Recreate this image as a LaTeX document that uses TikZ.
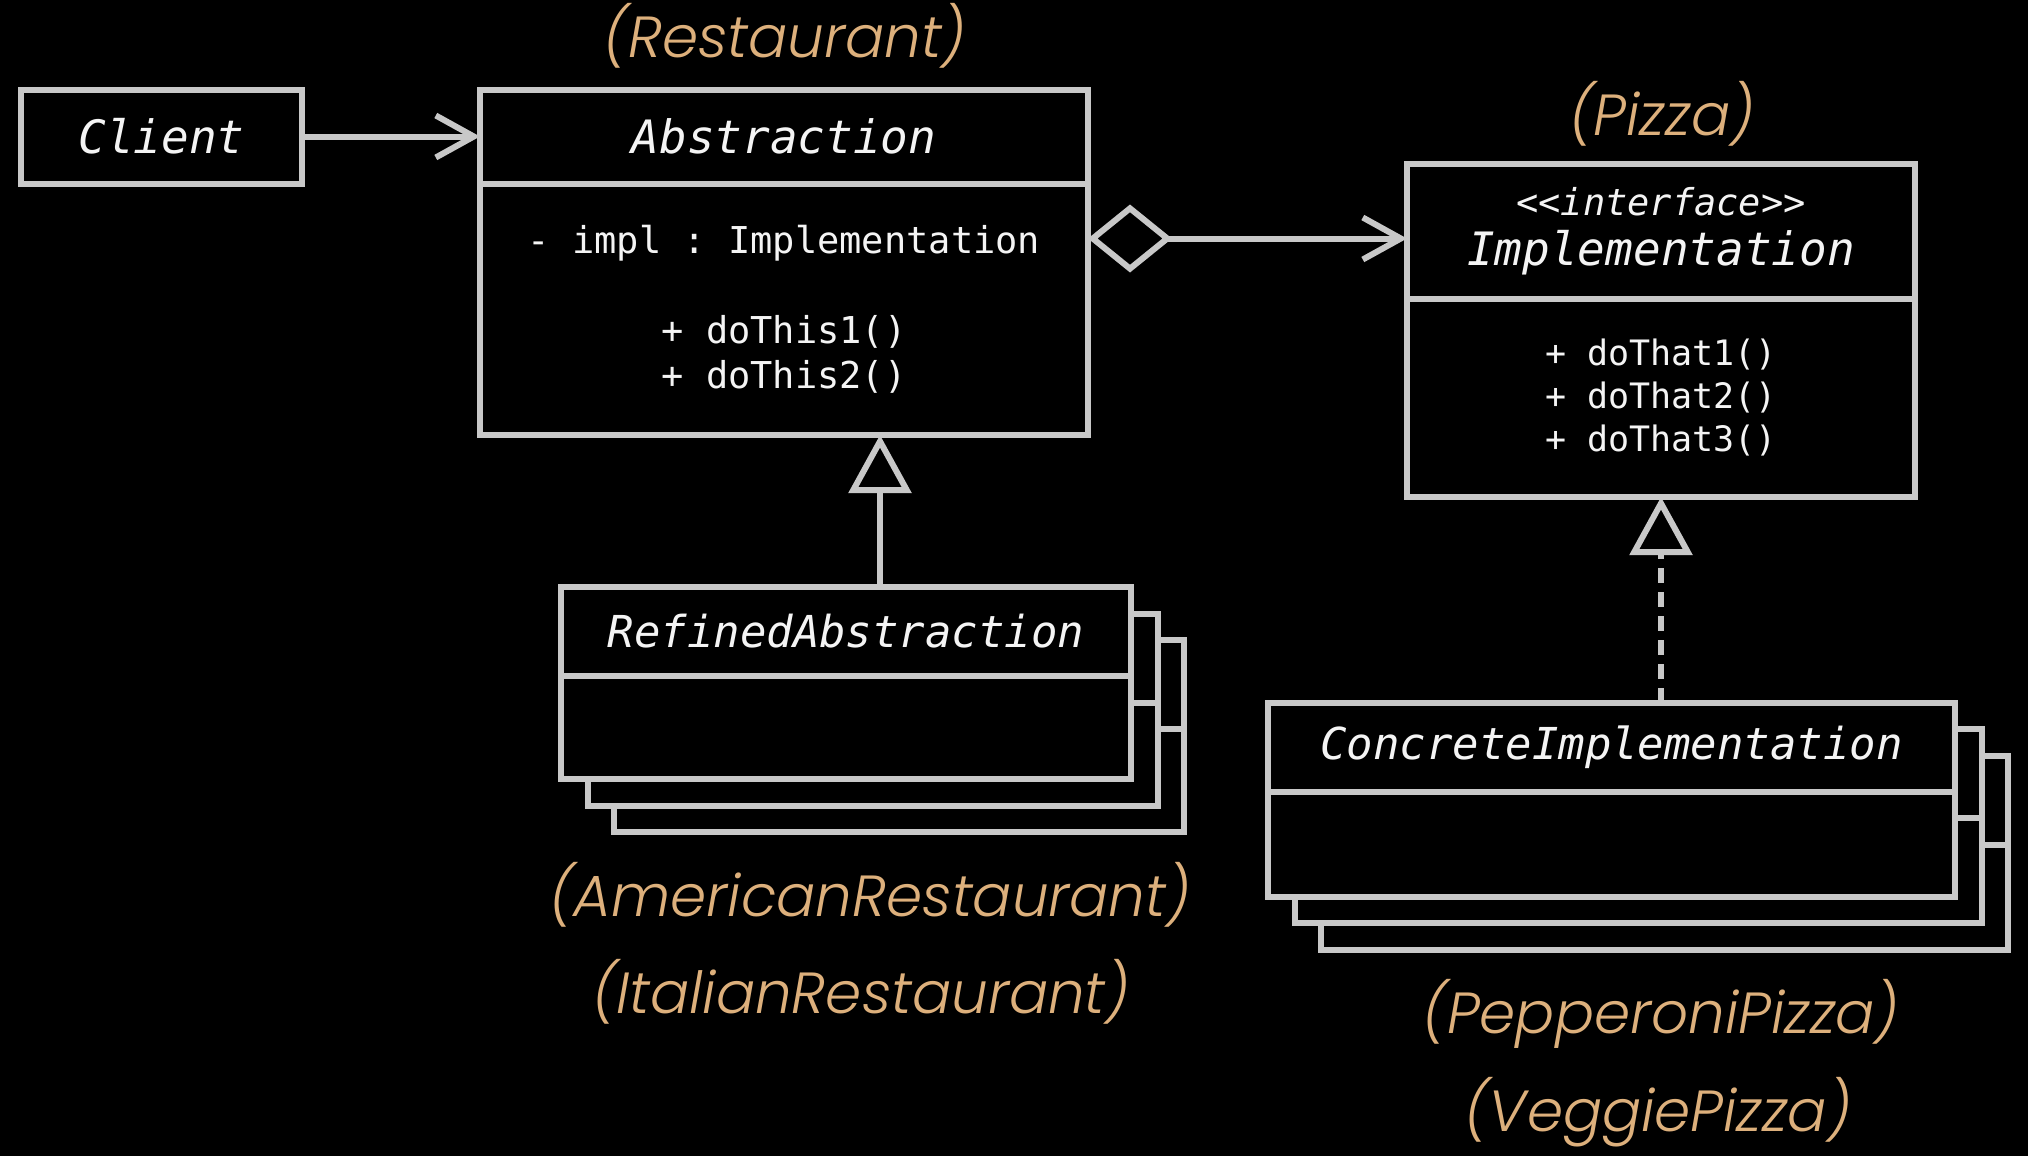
\documentclass[tikz,border=0pt]{standalone}
\usepackage{fontspec}
\setmonofont{DejaVu Sans Mono}
\IfFontExistsTF{Poppins Light Italic}
    {\newfontfamily\notefont{Poppins Light Italic}}
    {\newfontfamily\notefont{Poppins Italic}}
\usetikzlibrary{positioning,arrows.meta}

\definecolor{linegray}{HTML}{C8C8C8}
\definecolor{textwhite}{HTML}{F4F4F4}
\definecolor{noteorange}{HTML}{DDB07C}

\tikzset{
    head/.style={rectangle, draw=linegray, line width=6pt, fill=black, text=textwhite, inner sep=0pt, outer sep=0pt, align=center, font=\fontsize{46}{50}\selectfont\ttfamily\itshape},
    body/.style={rectangle, draw=linegray, line width=6pt, fill=black, text=textwhite, inner sep=0pt, outer sep=0pt, align=center, font=\fontsize{37}{45}\selectfont\ttfamily},
    note/.style={text=noteorange, inner sep=0pt, font=\fontsize{58}{62}\selectfont\notefont},
    assoc/.style={draw=linegray, line width=6pt, -{Straight Barb[length=38pt,width=42pt]}},
    aggr/.style={draw=linegray, line width=6pt, {Diamond[open,length=84pt,width=68pt]}-{Straight Barb[length=38pt,width=42pt]}},
    inherit/.style={draw=linegray, line width=6pt, -{Triangle[open,length=58pt,width=62pt]}},
    realize/.style={inherit, dash pattern=on 15pt off 9pt}
    }

\begin{document}
\begin{tikzpicture}[x=1pt, y=-1pt]
                % The Canvas
                \fill[black] (0,0) rectangle (2028,1156);
                \useasboundingbox (0,0) rectangle (2028,1156);

                % The Stacks
                \foreach \off/\n in {53/3, 26.5/2}{
                    \node[head, minimum width=570pt, minimum height=89pt] (refhead\n) at (846+\off,631.5+\off) {};
                    \node[body, minimum width=570pt, minimum height=103pt] (refbody\n) at (846+\off,727.5+\off) {};
                    \node[head, minimum width=687pt, minimum height=89pt] (conchead\n) at (1611.5+\off,747+\off) {};
                    \node[body, minimum width=687pt, minimum height=105pt] (concbody\n) at (1611.5+\off,844+\off) {};
                }

                % The Classes
                \node[head, minimum width=281pt, minimum height=94pt] (client) at (161.5,136.5) {Client};
                \node[head, minimum width=608pt, minimum height=94pt] (abstrhead) at (784,136.5) {Abstraction};
                \node[body, minimum width=608pt, minimum height=251.5pt, below=0pt of abstrhead] (abstrbody)
                    {- impl : Implementation\\[45pt]+ doThis1()\\+ doThis2()};
                \node[head, minimum width=508pt, minimum height=135pt] (implhead) at (1661,231)
                    {{\fontsize{37}{40}\selectfont<<interface>>}\\Implementation};
                \node[body, minimum width=508pt, minimum height=198.5pt, below=0pt of implhead,
                    font=\fontsize{35}{43}\selectfont\ttfamily] (implbody)
                    {+ doThat1()\\+ doThat2()\\+ doThat3()};
                \node[head, minimum width=570pt, minimum height=89pt, font=\fontsize{44}{48}\selectfont\ttfamily\itshape]
                    (refhead) at (846,631.5) {RefinedAbstraction};
                \node[body, minimum width=570pt, minimum height=103pt, below=0pt of refhead] (refbody) {};
                \node[head, minimum width=687pt, minimum height=89pt, font=\fontsize{44}{48}\selectfont\ttfamily\itshape]
                    (conchead) at (1611.5,747) {ConcreteImplementation};
                \node[body, minimum width=687pt, minimum height=105pt, below=0pt of conchead] (concbody) {};

                % The Notes
                \node[note] (restnote) at (785,36) {(Restaurant)};
                \node[note] (pizzanote) at (1662,114) {(Pizza)};
                \node[note] (amernote) at (870,895) {(AmericanRestaurant)};
                \node[note] (italnote) at (861,992) {(ItalianRestaurant)};
                \node[note] (peppnote) at (1661,1014) {(PepperoniPizza)};
                \node[note] (vegnote) at (1658,1112) {(VeggiePizza)};

                % The Links
                \coordinate (aggrstart) at ([yshift=-55pt]abstrbody.north east);
                \coordinate (genstart) at ([xshift=34pt]refhead.north);
                \draw[assoc] (client) -- (abstrhead);
                \draw[aggr] (aggrstart) -- (aggrstart -| implhead.west);
                \draw[inherit] (genstart) -- (genstart |- abstrbody.south);
                \draw[realize] (implbody.south |- conchead.north) -- (implbody.south);
            \end{tikzpicture}
\end{document}
